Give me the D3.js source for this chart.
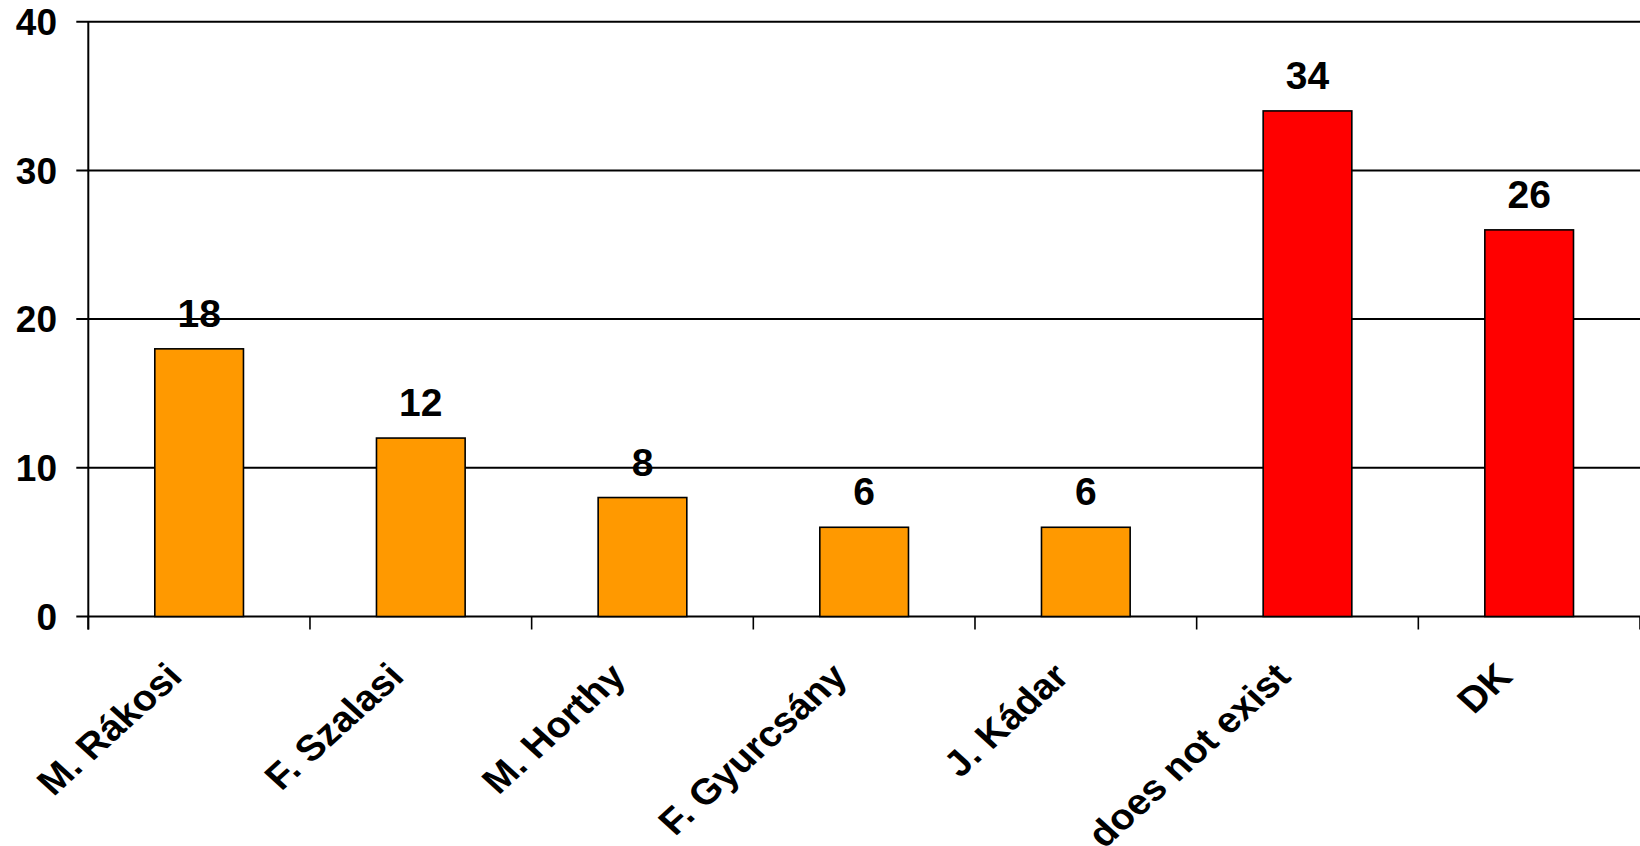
<!DOCTYPE html>
<html>
<head>
<meta charset="utf-8">
<script src="https://cdn.jsdelivr.net/npm/d3@7"></script>
<style>
  html, body { margin: 0; padding: 0; background: #ffffff; }
  svg { display: block; }
  text { font-family: "Liberation Sans", Arial, sans-serif; font-weight: bold; fill: #000; }
</style>
</head>
<body>
<svg id="chart" width="1640" height="846"></svg>
<script>
// Responses per answer option
const categories = ["M. Rákosi", "F. Szalasi", "M. Horthy", "F. Gyurcsány", "J. Kádar", "does not exist", "DK"];
const values = [18, 12, 8, 6, 6, 34, 26];
const barColors = ["#FF9900", "#FF9900", "#FF9900", "#FF9900", "#FF9900", "#FF0000", "#FF0000"];
const yTicks = [0, 10, 20, 30, 40];

const plotLeft = 88.3, plotRight = 1640, plotTop = 21.7, plotBottom = 616.5;

const svg = d3.select("#chart");

const x = d3.scaleBand()
  .domain(categories)
  .range([plotLeft, plotRight])
  .paddingInner(0.6)
  .paddingOuter(0.3);

const y = d3.scaleLinear().domain([0, 40]).range([plotBottom, plotTop]);

// Horizontal gridlines (extending left of the axis as tick marks)
svg.append("g")
  .selectAll("line")
  .data(yTicks)
  .join("line")
  .attr("x1", plotLeft - 12)
  .attr("x2", plotRight)
  .attr("y1", d => y(d))
  .attr("y2", d => y(d))
  .attr("stroke", "#000")
  .attr("stroke-width", 2);

// Y tick labels
svg.append("g")
  .selectAll("text")
  .data(yTicks)
  .join("text")
  .attr("x", 57)
  .attr("y", d => y(d))
  .attr("dy", "0.36em")
  .attr("text-anchor", "end")
  .style("font-size", "37px")
  .text(d => d);

// Category boundary ticks below the x axis
const step = x.step();
const boundaries = d3.range(categories.length + 1).map(i => plotLeft + i * step);
svg.append("g")
  .selectAll("line")
  .data(boundaries)
  .join("line")
  .attr("x1", d => d)
  .attr("x2", d => d)
  .attr("y1", plotBottom)
  .attr("y2", plotBottom + 13)
  .attr("stroke", "#000")
  .attr("stroke-width", 1.6);

// Bars
svg.append("g")
  .selectAll("rect")
  .data(categories)
  .join("rect")
  .attr("x", d => x(d))
  .attr("y", (d, i) => y(values[i]))
  .attr("width", x.bandwidth())
  .attr("height", (d, i) => y(0) - y(values[i]))
  .attr("fill", (d, i) => barColors[i])
  .attr("stroke", "#000")
  .attr("stroke-width", 1.6);

// Y axis line
svg.append("line")
  .attr("x1", plotLeft).attr("x2", plotLeft)
  .attr("y1", plotTop).attr("y2", plotBottom + 13)
  .attr("stroke", "#000")
  .attr("stroke-width", 2);

// Value labels above bars
svg.append("g")
  .selectAll("text")
  .data(categories)
  .join("text")
  .attr("x", d => x(d) + x.bandwidth() / 2)
  .attr("y", (d, i) => y(values[i]) - 22)
  .attr("text-anchor", "middle")
  .style("font-size", "39px")
  .text((d, i) => values[i]);

// Rotated category labels (slightly widened, giving a ~42° slant)
svg.append("g")
  .selectAll("text")
  .data(categories)
  .join("text")
  .attr("transform", d => `translate(${x(d) + x.bandwidth() / 2 - 15},${plotBottom + 62}) scale(1.1,1) rotate(-45)`)
  .attr("text-anchor", "end")
  .style("font-size", "36px")
  .text(d => d);
</script>
</body>
</html>
